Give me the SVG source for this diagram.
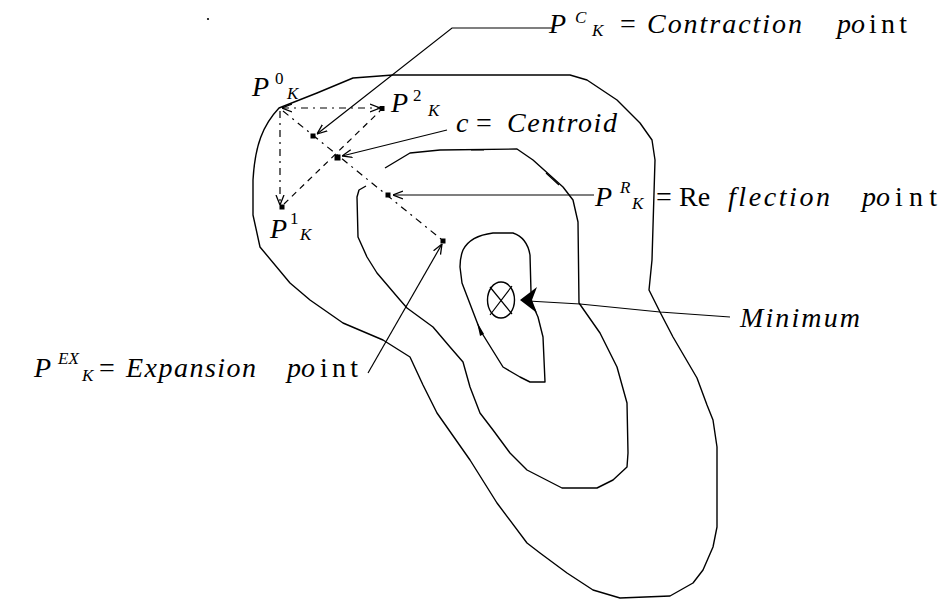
<svg xmlns="http://www.w3.org/2000/svg" width="940" height="600" viewBox="0 0 940 600">
<style>
.t{font-family:"Liberation Serif","Times New Roman",serif;font-size:28px;fill:#000}
.i{font-style:italic}
.s{font-size:17px}
.c{fill:none;stroke:#000;stroke-width:1.4;stroke-linejoin:round}
.l{fill:none;stroke:#000;stroke-width:1.2}
.dd{fill:none;stroke:#000;stroke-width:1.2;stroke-dasharray:7 5 2 5}
.ds{fill:none;stroke:#000;stroke-width:1.2;stroke-dasharray:6 5}
.pt{fill:#000}
</style>
<defs>
<marker id="v" viewBox="0 0 10 10" refX="10" refY="5" markerWidth="10" markerHeight="10" markerUnits="userSpaceOnUse" orient="auto-start-reverse">
<path d="M0,1 L10,5 L0,9" fill="none" stroke="#000" stroke-width="1.3"/>
</marker>
</defs>
<rect width="940" height="600" fill="#fff"/>
<g id="contours">
<path id="outer" class="c" d="M279,108 L317,93 L353,78 L393,75 L570,75 L587,80 L617,100 L640,123 L652,140 L655,160 L652,260 L649,290 L660,312 L673,337 L697,378 L707,405 L713,420 L717,447 L717,527 L713,547 L703,570 L693,583 L670,596 L620,598 L593,590 L567,573 L540,553 L527,543 L497,503 L470,460 L437,413 L423,385 L410,357 L383,340 L343,323 L310,300 L290,283 L260,247 L253,215 L253,180 C255,145 263,125 279,108 Z"/>
<path id="middle" class="c" d="M385,168 L410,153 L440,150 L517,149 L533,160 L563,187 L573,200 L578,222 L579,303 L600,333 L617,367 L627,403 L628,453 L627,467 L613,480 L597,488 L562,488 L527,470 L510,453 L493,430 L480,413 L470,387 L463,362 L450,347 L433,327 L407,308 L400,300 L377,273 L367,257 L358,237 L357,197 L359,190 L366,186"/>
<path id="inner" class="c" d="M463,250 C468,240 477,235 493,233 L513,233 C522,236 528,243 530,255 L531,292 M534,308 L538,317 L543,337 L545,382 L530,382 L520,377 L503,367 L480,330 L462,283 L460,267 C460,260 461,255 463,250"/>
<path class="l" stroke-width="3" d="M471,150 L484,150 M546,173 L559,185"/>
<path class="pt" d="M477,322 L484,334 L480,336 Z"/>
</g>
<g id="minimum">
<ellipse class="c" cx="501" cy="300" rx="13.5" ry="18"/>
<path class="l" d="M490,287 L512,314 M512,286 L490,315"/>
</g>
<g id="points">
<rect class="pt" x="379.5" y="106" width="5" height="5"/>
<rect class="pt" x="279.5" y="204.5" width="5" height="5"/>
<rect class="pt" x="310.5" y="133.5" width="5" height="5"/>
<rect class="pt" x="334.5" y="154.5" width="6" height="6"/>
<rect class="pt" x="385.5" y="192.5" width="5" height="5"/>
<rect class="pt" x="440.5" y="238.5" width="5" height="5"/>
<circle class="pt" cx="208" cy="19" r="1.1"/>
</g>
<g id="connectors">
<path class="dd" d="M282,108 L380,108" marker-start="url(#v)" marker-end="url(#v)"/>
<path class="dd" d="M280,111 L280,205" marker-end="url(#v)"/>
<path class="ds" d="M284,204 L380,111"/>
<path class="dd" d="M283,111 L441,239"/>
<polyline class="l" points="552,28 452,28 317,134" marker-end="url(#v)"/>
<path class="l" d="M447,130 L342,156" marker-end="url(#v)"/>
<path class="l" d="M594,195 L393,195" marker-end="url(#v)"/>
<path class="l" d="M368,373 L442,244" marker-end="url(#v)"/>
<path class="l" d="M730,317 L660,312 L580,304 L528,301"/>
<path class="pt" d="M520,300 L537,287 L532,300 L537,313 Z"/>
</g>
<g id="labels">
<text class="t i" x="549" y="33">P</text>
<text class="t i s" x="575" y="23">C</text>
<text class="t i s" x="592" y="36">K</text>
<text class="t" x="620" y="33">=</text>
<text class="t i" x="647" y="33" textLength="155">Contraction</text>
<text class="t i" x="837" y="33">po</text>
<text class="t" x="869" y="33" textLength="38">int</text>

<text class="t i" x="456" y="132">c</text>
<text class="t" x="476" y="132">=</text>
<text class="t i" x="507" y="132" textLength="110">Centroid</text>

<text class="t i" x="595" y="206">P</text>
<text class="t i s" x="620" y="193">R</text>
<text class="t i s" x="632" y="209">K</text>
<text class="t" x="656" y="206">=</text>
<text class="t" x="679" y="206">Re</text>
<text class="t i" x="728" y="206" textLength="102">flection</text>
<text class="t i" x="862" y="206">po</text>
<text class="t" x="895" y="206" textLength="42">int</text>

<text class="t i" x="740" y="327" textLength="120">Minimum</text>

<text class="t i" x="252" y="96">P</text>
<text class="t s" x="275" y="84">0</text>
<text class="t i s" x="287" y="99">K</text>

<text class="t i" x="391" y="112">P</text>
<text class="t s" x="413" y="101">2</text>
<text class="t i s" x="428" y="116">K</text>

<text class="t i" x="270" y="238">P</text>
<text class="t s" x="290" y="224">1</text>
<text class="t i s" x="300" y="240">K</text>

<text class="t i" x="34" y="377">P</text>
<text class="t i s" x="58" y="364">EX</text>
<text class="t i s" x="82" y="381">K</text>
<text class="t" x="99" y="377">=</text>
<text class="t i" x="126" y="377" textLength="130">Expansion</text>
<text class="t i" x="287" y="377">po</text>
<text class="t" x="320" y="377" textLength="38">int</text>
</g>
</svg>
